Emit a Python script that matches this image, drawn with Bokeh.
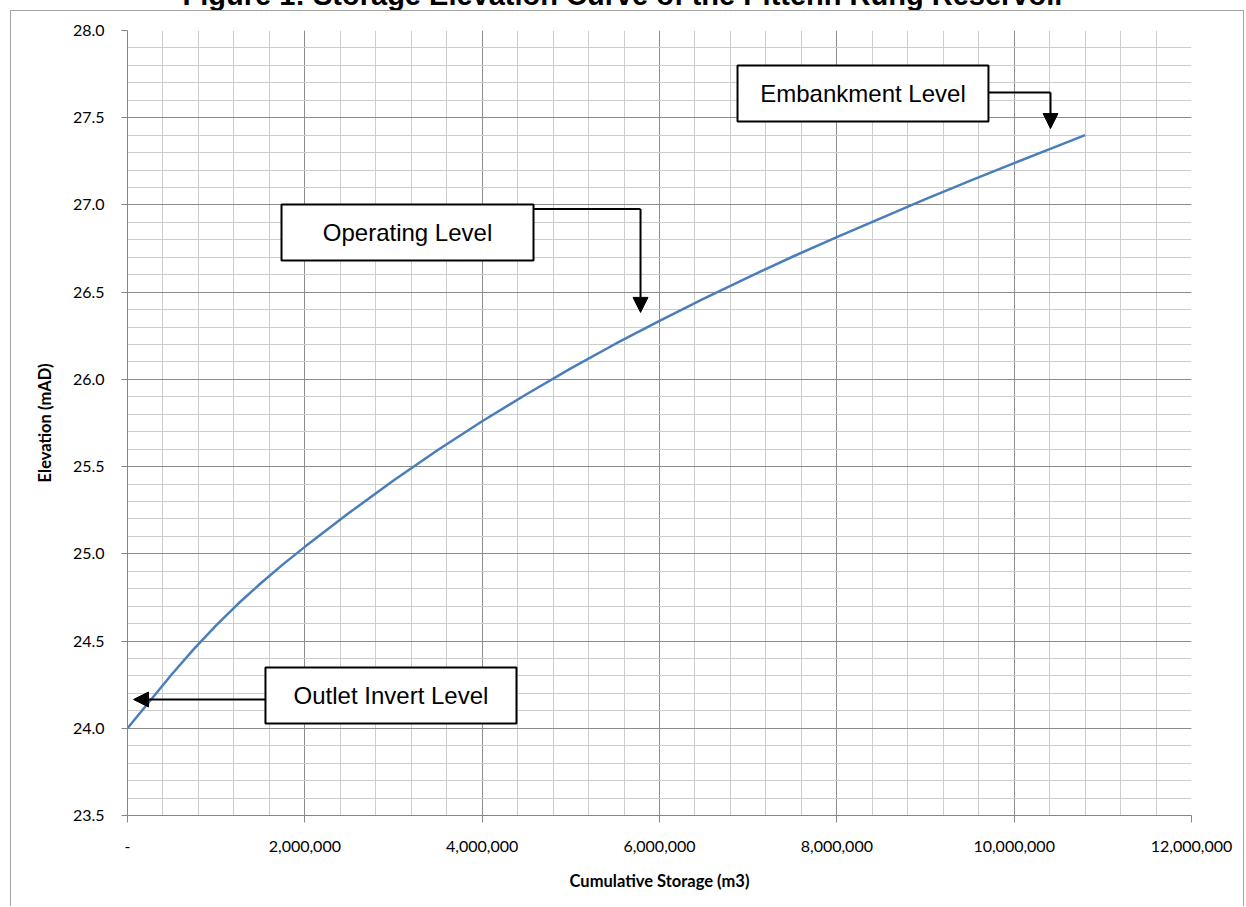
from bokeh.plotting import figure
from bokeh.models import (Range1d, FixedTicker, CustomJSTickFormatter, Arrow,
                          NormalHead, Title, InlineStyleSheet)
from bokeh.core.properties import value
from bokeh.embed import file_html
from bokeh.resources import INLINE

# ---------------- data ----------------
storage = [0, 250000, 500000, 750000, 1000000, 1250000, 1500000, 1750000, 2000000, 2500000,
           3000000, 3500000, 4000000, 4500000, 5000000, 5500000, 6000000, 6500000,
           7000000, 7500000, 8000000, 8500000, 9000000, 9500000, 10000000, 10500000, 10800000]
elevation = [24.000, 24.155, 24.310, 24.455, 24.590, 24.715, 24.830, 24.938, 25.040, 25.235,
             25.420, 25.595, 25.760, 25.915, 26.063, 26.203, 26.335, 26.463,
             26.585, 26.703, 26.815, 26.925, 27.033, 27.138, 27.240, 27.340, 27.400]

x_major = [0, 2000000, 4000000, 6000000, 8000000, 10000000, 12000000]
x_tick_labels = ["-", "2,000,000", "4,000,000", "6,000,000", "8,000,000", "10,000,000", "12,000,000"]
x_minor = [i * 400000 for i in range(31)]
y_major = [23.5, 24.0, 24.5, 25.0, 25.5, 26.0, 26.5, 27.0, 27.5, 28.0]
y_tick_labels = ["23.5", "24.0", "24.5", "25.0", "25.5", "26.0", "26.5", "27.0", "27.5", "28.0"]
y_minor = [round(23.5 + 0.1 * i, 1) for i in range(46)]

title_text = "Figure 1: Storage Elevation Curve of the Pittenh Rung Reservoir"
x_title = "Cumulative Storage (m3)"
y_title = "Elevation (mAD)"

# callout boxes (data units)
box_labels = ["Outlet Invert Level", "Operating Level", "Embankment Level"]
box_left = [1556000, 1737000, 6880000]
box_right = [4387000, 4579000, 9710000]
box_top = [24.348, 27.003, 27.800]
box_bottom = [24.027, 26.682, 27.479]
# arrows: start at box edge, optional elbow corner, tip
arrow_y = [24.165, 26.977, 27.645]
arrow_corner_x = [None, 5786000, 10410000]
arrow_tip_x = [68000, 5786000, 10410000]
arrow_tip_y = [24.165, 26.384, 27.438]

# ---------------- figure ----------------
SHIFT = 45          # canvas is shifted up so the title is cut by the page top, as in the reference
W, H = 1246, 951
border_css = """
:host { position: relative; overflow: hidden; }
:host::after {
  content: ""; position: absolute; left: 10px; top: 55px; width: 1234px; height: 1200px;
  border: 1.5px solid #a3a3a3; box-sizing: border-box; pointer-events: none;
}
"""
p = figure(width=W, height=H, output_backend="svg", toolbar_location=None,
           x_range=Range1d(0, 12000000), y_range=Range1d(23.5, 28.0),
           min_border_left=127, min_border_right=55, min_border_top=75, min_border_bottom=91,
           background_fill_color="white", border_fill_color="white",
           title=Title(text=title_text, align="left", offset=55, standoff=40,
                       vertical_align="bottom", text_font="Liberation Sans",
                       text_font_size="29px", text_font_style="bold", text_color="black"))
p.styles = {"margin-top": f"-{SHIFT}px"}
p.stylesheets = [InlineStyleSheet(css=border_css)]
p.outline_line_color = None

tick_font = "Lato"
fmt_code = """
let best = -1;
for (let i = 0; i < tvals.length; i++) { if (Math.abs(tvals[i] - tick) < 1e-6) best = i; }
return best >= 0 ? tlabels[best] : "";
"""
p.xaxis.ticker = FixedTicker(ticks=x_major, minor_ticks=x_minor)
p.yaxis.ticker = FixedTicker(ticks=y_major, minor_ticks=y_minor)
p.xaxis.formatter = CustomJSTickFormatter(args=dict(tvals=x_major, tlabels=x_tick_labels), code=fmt_code)
p.yaxis.formatter = CustomJSTickFormatter(args=dict(tvals=y_major, tlabels=y_tick_labels), code=fmt_code)

for ax in (p.xaxis, p.yaxis):
    ax.axis_line_color = "#868686"
    ax.major_tick_line_color = "#868686"
    ax.major_tick_in = 0
    ax.minor_tick_in = 0
    ax.minor_tick_out = 0
    ax.major_label_text_font = tick_font
    ax.major_label_text_font_size = "16px"
    ax.major_label_text_color = "#000000"
    ax.axis_label_text_font = tick_font
    ax.axis_label_text_font_size = "16.5px"
    ax.axis_label_text_font_style = "bold"
    ax.axis_label_text_color = "#000000"

p.xaxis.major_tick_out = 7
p.yaxis.major_tick_out = 6
p.xaxis.major_label_standoff = 18
p.yaxis.major_label_standoff = 17
p.xaxis.axis_label = x_title
p.yaxis.axis_label = y_title
p.xaxis.axis_label_standoff = 16
p.yaxis.axis_label_standoff = 15

for g in (p.xgrid, p.ygrid):
    g.grid_line_color = "#8c8c8c"
    g.grid_line_width = 1
    g.minor_grid_line_color = "#cdcdcd"
    g.minor_grid_line_width = 1
    g.level = "underlay"

# curve
p.line(storage, elevation, line_color="#4a7ebb", line_width=2.5)

# callout boxes
p.quad(left=box_left, right=box_right, top=box_top, bottom=box_bottom,
       fill_color="white", line_color="black", line_width=2)
p.text(x=[(l + r) / 2 for l, r in zip(box_left, box_right)],
       y=[(t + b) / 2 for t, b in zip(box_top, box_bottom)],
       text=box_labels, text_font=value("Liberation Sans"), text_font_size="24px",
       text_align="center", text_baseline="middle", text_color="black")

# arrows
for i in range(3):
    if arrow_corner_x[i] is None:
        start_x = box_left[i]
    else:
        p.segment(x0=[box_right[i]], y0=[arrow_y[i]], x1=[arrow_corner_x[i]], y1=[arrow_y[i]],
                  line_color="black", line_width=2)
        start_x = arrow_corner_x[i]
    p.add_layout(Arrow(end=NormalHead(size=15, fill_color="black", line_color="black"),
                       x_start=start_x, y_start=arrow_y[i],
                       x_end=arrow_tip_x[i], y_end=arrow_tip_y[i],
                       line_color="black", line_width=2))

open("out.html", "w").write(file_html(p, INLINE))
